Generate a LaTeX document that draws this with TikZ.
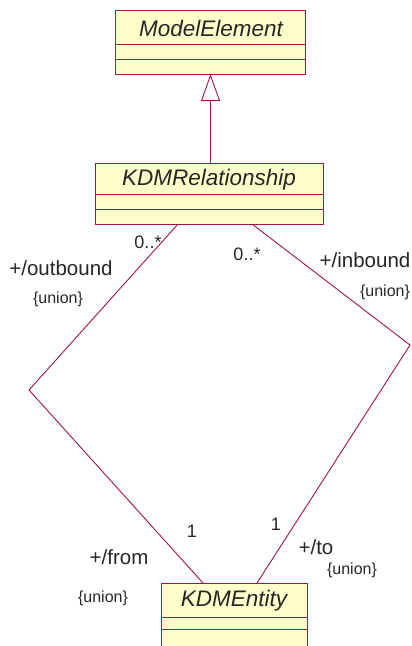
\documentclass[tikz,border=0pt]{standalone}
\usepackage{fontspec}
\setmainfont{Liberation Sans}
\usetikzlibrary{arrows.meta}
\definecolor{umlline}{RGB}{160,20,70}
\definecolor{umlfill}{RGB}{255,255,204}
\tikzset{
  x=1pt, y=1pt,
  classname/.style={font=\fontsize{22.5}{24}\selectfont\itshape, inner sep=0pt, anchor=center, text=black!85},
  classframe/.style={draw=umlline, fill=umlfill, line width=1pt},
  compline/.style={draw=umlline, line width=1pt},
  assoc/.style={draw=umlline, line width=0.9pt},
  rolelabel/.style={font=\fontsize{20.5}{22}\selectfont, inner sep=0pt, text=black!85},
  multlabel/.style={font=\fontsize{18}{20}\selectfont, inner sep=0pt, text=black!85},
  unionlabel/.style={font=\fontsize{16}{18}\selectfont, inner sep=0pt, text=black!85},
}
\begin{document}
\begin{tikzpicture}
\useasboundingbox (0,0) rectangle (412,-646);
\clip (0,0) rectangle (412,-646);

% ModelElement
\draw[classframe] (115,-10) rectangle (305,-74);
\draw[compline] (115,-44) -- (305,-44);
\draw[compline] (115,-59) -- (305,-59);
\node[classname] (modelelement) at (211,-28) {ModelElement};

% KDMRelationship
\draw[classframe] (95,-163) rectangle (323,-224);
\draw[compline] (95,-194) -- (323,-194);
\draw[compline] (95,-209) -- (323,-209);
\node[classname] (kdmrelationship) at (209,-180) {KDMRelationship};

% KDMEntity (continues below the page edge)
\draw[classframe] (161,-583) rectangle (307,-670);
\draw[compline] (161,-617) -- (307,-617);
\draw[compline] (161,-629) -- (307,-629);
\node[classname] (kdmentity) at (234,-601) {KDMEntity};

% attachment points
\coordinate (meBottom) at (210.5,-74);
\coordinate (relTop) at (210.5,-163);
\coordinate (relOut) at (178,-224);
\coordinate (relIn) at (252,-224);
\coordinate (bendL) at (29,-390);
\coordinate (bendR) at (410,-345);
\coordinate (entFrom) at (203,-583);
\coordinate (entTo) at (257,-583);

% generalization
\draw[assoc, -{Triangle[open, length=27pt, width=19pt, line width=0.9pt]}] (relTop) -- (meBottom);

% associations
\draw[assoc] (relOut) -- (bendL) -- (entFrom);
\draw[assoc] (relIn) -- (bendR) -- (entTo);

% role and multiplicity labels
\node[multlabel] (m1) at (148,-242) {0..*};
\node[rolelabel] (r1) at (61,-268) {+/outbound};
\node[unionlabel] (u1) at (58,-299) {\{union\}};
\node[multlabel] (m2) at (247,-254) {0..*};
\node[rolelabel] (r2) at (365,-260) {+/inbound};
\node[unionlabel] (u2) at (385,-292) {\{union\}};
\node[multlabel] (m3) at (192,-531) {1};
\node[multlabel] (m4) at (276,-524) {1};
\node[rolelabel] (r3) at (119,-557) {+/from};
\node[unionlabel] (u3) at (103,-598) {\{union\}};
\node[rolelabel] (r4) at (316,-547) {+/to};
\node[unionlabel] (u4) at (352,-570) {\{union\}};
\end{tikzpicture}
\end{document}
